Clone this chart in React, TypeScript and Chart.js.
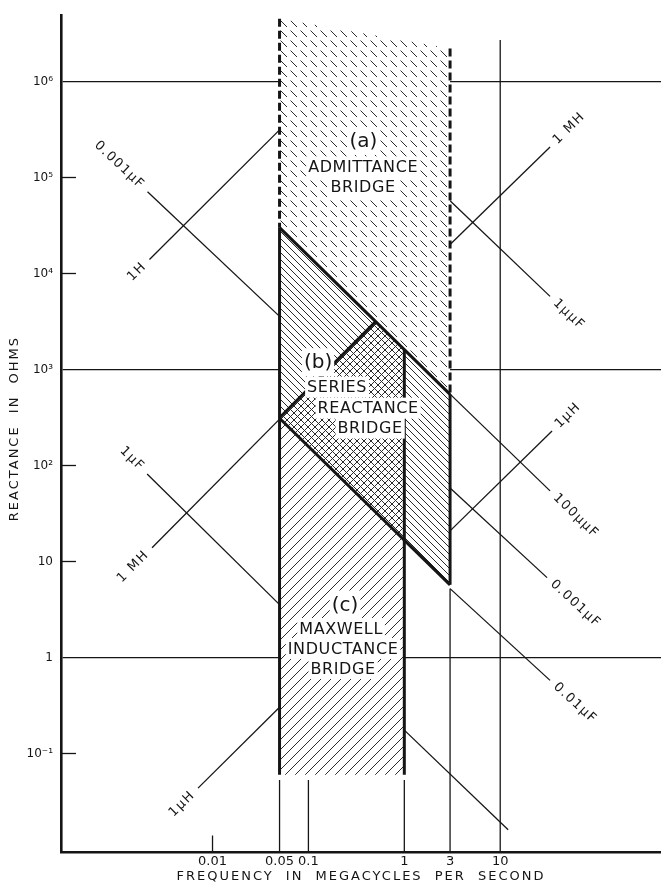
import React, { useEffect, useRef } from 'react';
import { Chart, registerables } from 'chart.js';

Chart.register(...registerables);

type Pt = [number, number];

const INK = '#151515';
const FONT = '"DejaVu Sans", sans-serif';

// ---- axis ranges (frequency in Mc/s, reactance in ohms)
const FREQ_MIN = 2.63e-4;
const FREQ_MAX = 475;
const OHM_MIN = 0.0094;
const OHM_MAX = 4.9e6;

const freqTicks = [0.01, 0.05, 0.1, 1, 3, 10];
const freqTickLabels = ['0.01', '0.05', '0.1', '1', '3', '10'];
const ohmTicks = [1e6, 1e5, 1e4, 1e3, 1e2, 10, 1, 0.1];
const ohmTickLabels = ['10⁶', '10⁵', '10⁴', '10³', '10²', '10', '1', '10⁻¹'];
const ohmGridLines = [1e6, 1e3, 1];

// ---- constant inductance / capacitance lines [freq, ohms]
const ind1H: Pt[] = [[0.0022, 14000], [0.05, 313000]];
const ind1mHLow: Pt[] = [[0.00234, 13.9], [0.05, 304]];
const ind1mHHigh: Pt[] = [[3, 20000], [33.1, 208000]];
const ind1uHLow: Pt[] = [[0.00706, 0.0435], [0.05, 0.303]];
const ind1uHHigh: Pt[] = [[3, 20.8], [34.7, 228]];
const cap1uuF: Pt[] = [[3, 57300], [33.1, 5770]];
const cap100uuF: Pt[] = [[3, 553], [33.1, 54.3]];
const cap0001uFLow: Pt[] = [[0.0021, 71000], [0.05, 3570]];
const cap0001uFHigh: Pt[] = [[3, 58.3], [30.8, 6.78]];
const cap001uF: Pt[] = [[3, 5.21], [33.1, 0.577]];
const cap1uFLow: Pt[] = [[0.00208, 81.6], [0.05, 3.55]];
const cap1uFHigh: Pt[] = [[1, 0.175], [12.1, 0.016]];

// ---- bridge ranges
const admittanceArea: Pt[] = [[0.05, 4.5e6], [3, 2.2e6], [3, 550], [0.05, 30000]];
const seriesArea: Pt[] = [[0.05, 30000], [3, 550], [3, 5.7], [0.05, 310]];
const maxwellArea: Pt[] = [[0.05, 0.06], [0.05, 314], [0.503, 3150], [1, 1600], [1, 0.06]];
const maxwellOnlyArea: Pt[] = [[0.05, 0.06], [0.05, 310], [1, 16.5], [1, 0.06]];
const overlapArea: Pt[] = [[0.05, 310], [0.05, 314], [0.503, 3150], [1, 1600], [1, 16.5]];

// ---- bridge boundaries
const admittanceLeftEdge: Pt[] = [[0.05, 4.5e6], [0.05, 30000]];
const admittanceRightEdge: Pt[] = [[3, 2.2e6], [3, 550]];
const seriesUpperEdge: Pt[] = [[0.05, 30000], [3, 550]];
const seriesLowerEdge: Pt[] = [[0.05, 310], [3, 5.7]];
const seriesRightEdge: Pt[] = [[3, 550], [3, 5.7]];
const maxwellLeftEdge: Pt[] = [[0.05, 30000], [0.05, 0.06]];
const maxwellRightEdge: Pt[] = [[1, 1600], [1, 0.06]];
const maxwellUpperEdge: Pt[] = [[0.05, 314], [0.503, 3150]];

// ---- vertical guides
const guide10: Pt[] = [[10, 2.7e6], [10, OHM_MIN]];
const stubFreqs = [0.01, 0.05, 0.1, 1, 3];
const stubTops = [0.014, 0.053, 0.053, 0.053, 5.2];

// ---- labels
const lineLabels: { pts: Pt[]; text: string; end: number }[] = [
  { pts: ind1H, text: '1H', end: 0 },
  { pts: cap0001uFLow, text: '0.001μF', end: 0 },
  { pts: cap1uFLow, text: '1μF', end: 0 },
  { pts: ind1mHLow, text: '1 MH', end: 0 },
  { pts: ind1uHLow, text: '1μH', end: 0 },
  { pts: ind1mHHigh, text: '1 MH', end: 1 },
  { pts: cap1uuF, text: '1μμF', end: 1 },
  { pts: ind1uHHigh, text: '1μH', end: 1 },
  { pts: cap100uuF, text: '100μμF', end: 1 },
  { pts: cap0001uFHigh, text: '0.001μF', end: 1 },
  { pts: cap001uF, text: '0.01μF', end: 1 },
];

const regionTexts = [
  { text: '(a)', f: 0.375, ohm: 2.4e5, big: true },
  { text: 'ADMITTANCE', f: 0.372, ohm: 1.29e5, big: false },
  { text: 'BRIDGE', f: 0.372, ohm: 8.0e4, big: false },
  { text: '(b)', f: 0.126, ohm: 1190, big: true },
  { text: 'SERIES', f: 0.199, ohm: 655, big: false },
  { text: 'REACTANCE', f: 0.419, ohm: 395, big: false },
  { text: 'BRIDGE', f: 0.44, ohm: 245, big: false },
  { text: '(c)', f: 0.241, ohm: 3.56, big: true },
  { text: 'MAXWELL', f: 0.219, ohm: 2.0, big: false },
  { text: 'INDUCTANCE', f: 0.23, ohm: 1.24, big: false },
  { text: 'BRIDGE', f: 0.23, ohm: 0.767, big: false },
];

function makeHatch(size: number, dir: string, bg: string | null, color: string, dashLen = 0) {
  const c = document.createElement('canvas');
  c.width = size;
  c.height = size;
  const g = c.getContext('2d')!;
  if (bg) {
    g.fillStyle = bg;
    g.fillRect(0, 0, size, size);
  }
  g.strokeStyle = color;
  g.lineWidth = 1;
  g.beginPath();
  if (dashLen > 0) {
    g.moveTo(0.5, 0.5);
    g.lineTo(dashLen, dashLen);
  } else {
    for (let k = -1; k <= 1; k++) {
      if (dir === '\\') {
        g.moveTo(k * size, 0);
        g.lineTo(k * size + size, size);
      } else {
        g.moveTo(k * size, size);
        g.lineTo(k * size + size, 0);
      }
    }
  }
  g.stroke();
  return g.createPattern(c, 'repeat')!;
}

const annotate = {
  id: 'annotate',
  beforeDatasetsDraw(chart: any) {
    const { ctx, chartArea, scales } = chart;
    const ys = scales.y;
    ctx.save();
    ctx.strokeStyle = INK;
    ctx.lineWidth = 1.3;
    ohmTicks.forEach((v) => {
      if (ohmGridLines.includes(v)) return;
      const py = Math.round(ys.getPixelForValue(v)) + 0.5;
      ctx.beginPath();
      ctx.moveTo(chartArea.left, py);
      ctx.lineTo(chartArea.left + 15, py);
      ctx.stroke();
    });
    ctx.restore();
  },
  afterDatasetsDraw(chart: any) {
    const { ctx, chartArea, scales } = chart;
    const xs = scales.x;
    const ys = scales.y;

    // region labels with white backing
    regionTexts.forEach(({ text, f, ohm, big }) => {
      const px = xs.getPixelForValue(f);
      const py = ys.getPixelForValue(ohm);
      ctx.save();
      ctx.font = `${big ? 20 : 16}px ${FONT}`;
      (ctx as any).letterSpacing = big ? '0px' : '0.6px';
      const w = ctx.measureText(text).width;
      const h = big ? 20 : 13;
      ctx.fillStyle = '#fff';
      ctx.fillRect(px - w / 2 - 2, py - h / 2 - 4, w + 4, h + 8);
      ctx.fillStyle = INK;
      ctx.textAlign = 'center';
      ctx.textBaseline = 'middle';
      ctx.fillText(text, px, py + 1);
      ctx.restore();
    });

    // line labels
    lineLabels.forEach(({ pts, text, end }) => {
      const a = pts[1 - end];
      const b = pts[end];
      const ax = xs.getPixelForValue(a[0]);
      const ay = ys.getPixelForValue(a[1]);
      const bx = xs.getPixelForValue(b[0]);
      const by = ys.getPixelForValue(b[1]);
      const len = Math.hypot(bx - ax, by - ay);
      const ux = (bx - ax) / len;
      const uy = (by - ay) / len;
      ctx.save();
      ctx.font = `13px ${FONT}`;
      (ctx as any).letterSpacing = '1.5px';
      const w = ctx.measureText(text).width;
      const d = 7 + w / 2;
      let ang = Math.atan2(uy, ux);
      if (ux < 0) ang += Math.PI;
      ctx.translate(bx + ux * d, by + uy * d);
      ctx.rotate(ang);
      ctx.fillStyle = INK;
      ctx.textAlign = 'center';
      ctx.textBaseline = 'middle';
      ctx.fillText(text, 0, 0);
      ctx.restore();
    });

    // axis titles
    ctx.save();
    ctx.fillStyle = INK;
    ctx.font = `13px ${FONT}`;
    (ctx as any).letterSpacing = '2px';
    (ctx as any).wordSpacing = '6px';
    ctx.textAlign = 'center';
    ctx.textBaseline = 'middle';
    ctx.fillText('FREQUENCY IN MEGACYCLES PER SECOND', (chartArea.left + chartArea.right) / 2, chart.height - 9);
    ctx.translate(15, (chartArea.top + chartArea.bottom) / 2 - 5);
    ctx.rotate(-Math.PI / 2);
    ctx.fillText('REACTANCE IN OHMS', 0, 0);
    ctx.restore();
  },
};

export default function App() {
  const ref = useRef<HTMLCanvasElement>(null);

  useEffect(() => {
    const canvas = ref.current!;
    const hatchA = makeHatch(10, '\\', '#ffffff', '#2e2e2e', 7);
    const hatchB = makeHatch(7, '\\', '#ffffff', '#2a2a2a');
    const hatchC = makeHatch(10, '/', null, '#2a2a2a');
    const hatchX = makeHatch(7, '/', null, '#2a2a2a');

    const datasets: any[] = [];
    const add = (pts: Pt[], o: any = {}) =>
      datasets.push({
        data: pts.map(([x, y]) => ({ x, y })),
        pointRadius: 0,
        borderColor: INK,
        borderWidth: 1.3,
        fill: false,
        tension: 0,
        ...o,
      });
    const area = (pts: Pt[], bg: any) =>
      add(pts, { fill: 'shape', backgroundColor: bg, borderColor: 'rgba(0,0,0,0)', borderWidth: 1 });

    // thin guides and component lines
    add(guide10);
    stubFreqs.forEach((f, i) => add([[f, stubTops[i]], [f, OHM_MIN]]));
    [ind1H, ind1mHLow, ind1mHHigh, ind1uHLow, ind1uHHigh, cap1uuF, cap100uuF, cap0001uFLow,
      cap0001uFHigh, cap001uF, cap1uFLow, cap1uFHigh].forEach((p) => add(p));

    // bridge areas
    area(maxwellArea, '#ffffff');
    area(admittanceArea, hatchA);
    area(seriesArea, hatchB);
    area(maxwellOnlyArea, hatchC);
    area(overlapArea, hatchX);

    // boundaries
    add(admittanceLeftEdge, { borderWidth: 3, borderDash: [8, 4] });
    add(admittanceRightEdge, { borderWidth: 3, borderDash: [8, 4] });
    [seriesUpperEdge, seriesLowerEdge, seriesRightEdge, maxwellLeftEdge, maxwellRightEdge, maxwellUpperEdge].forEach((p) =>
      add(p, { borderWidth: 3 })
    );

    datasets.forEach((d, i) => (d.order = datasets.length - i));

    const chart = new Chart(canvas, {
      type: 'line',
      data: { datasets },
      options: {
        responsive: false,
        animation: false,
        events: [],
        layout: { padding: { top: 13, right: 0, left: 0, bottom: 0 } },
        plugins: { legend: { display: false }, tooltip: { enabled: false }, title: { display: false } },
        scales: {
          x: {
            type: 'logarithmic',
            min: FREQ_MIN,
            max: FREQ_MAX,
            afterBuildTicks: (s: any) => {
              s.ticks = freqTicks.map((v) => ({ value: v }));
            },
            afterFit: (s: any) => {
              s.height = 34;
            },
            ticks: {
              autoSkip: false,
              maxRotation: 0,
              minRotation: 0,
              padding: 2,
              color: INK,
              font: { family: FONT, size: 13 },
              callback: (_v: any, i: number) => freqTickLabels[i],
            },
            grid: { drawOnChartArea: false, drawTicks: false },
            border: { display: true, color: INK, width: 2.6 },
          },
          y: {
            type: 'logarithmic',
            min: OHM_MIN,
            max: OHM_MAX,
            afterBuildTicks: (s: any) => {
              s.ticks = ohmTicks.map((v) => ({ value: v }));
            },
            afterFit: (s: any) => {
              s.width = 61;
            },
            ticks: {
              autoSkip: false,
              padding: 8,
              color: INK,
              font: { family: FONT, size: 12 },
              callback: (_v: any, i: number) => ohmTickLabels[i],
            },
            grid: {
              drawTicks: false,
              lineWidth: 1.3,
              color: (c: any) => (c.tick && ohmGridLines.includes(c.tick.value) ? INK : 'rgba(0,0,0,0)'),
            },
            border: { display: true, color: INK, width: 2.6 },
          },
        },
      } as any,
      plugins: [annotate],
    });
    return () => chart.destroy();
  }, []);

  return (
    <div style={{ position: 'fixed', left: 0, top: 0, width: 661, height: 886, background: '#fff' }}>
      <canvas ref={ref} width={661} height={886} style={{ display: 'block' }} />
    </div>
  );
}
